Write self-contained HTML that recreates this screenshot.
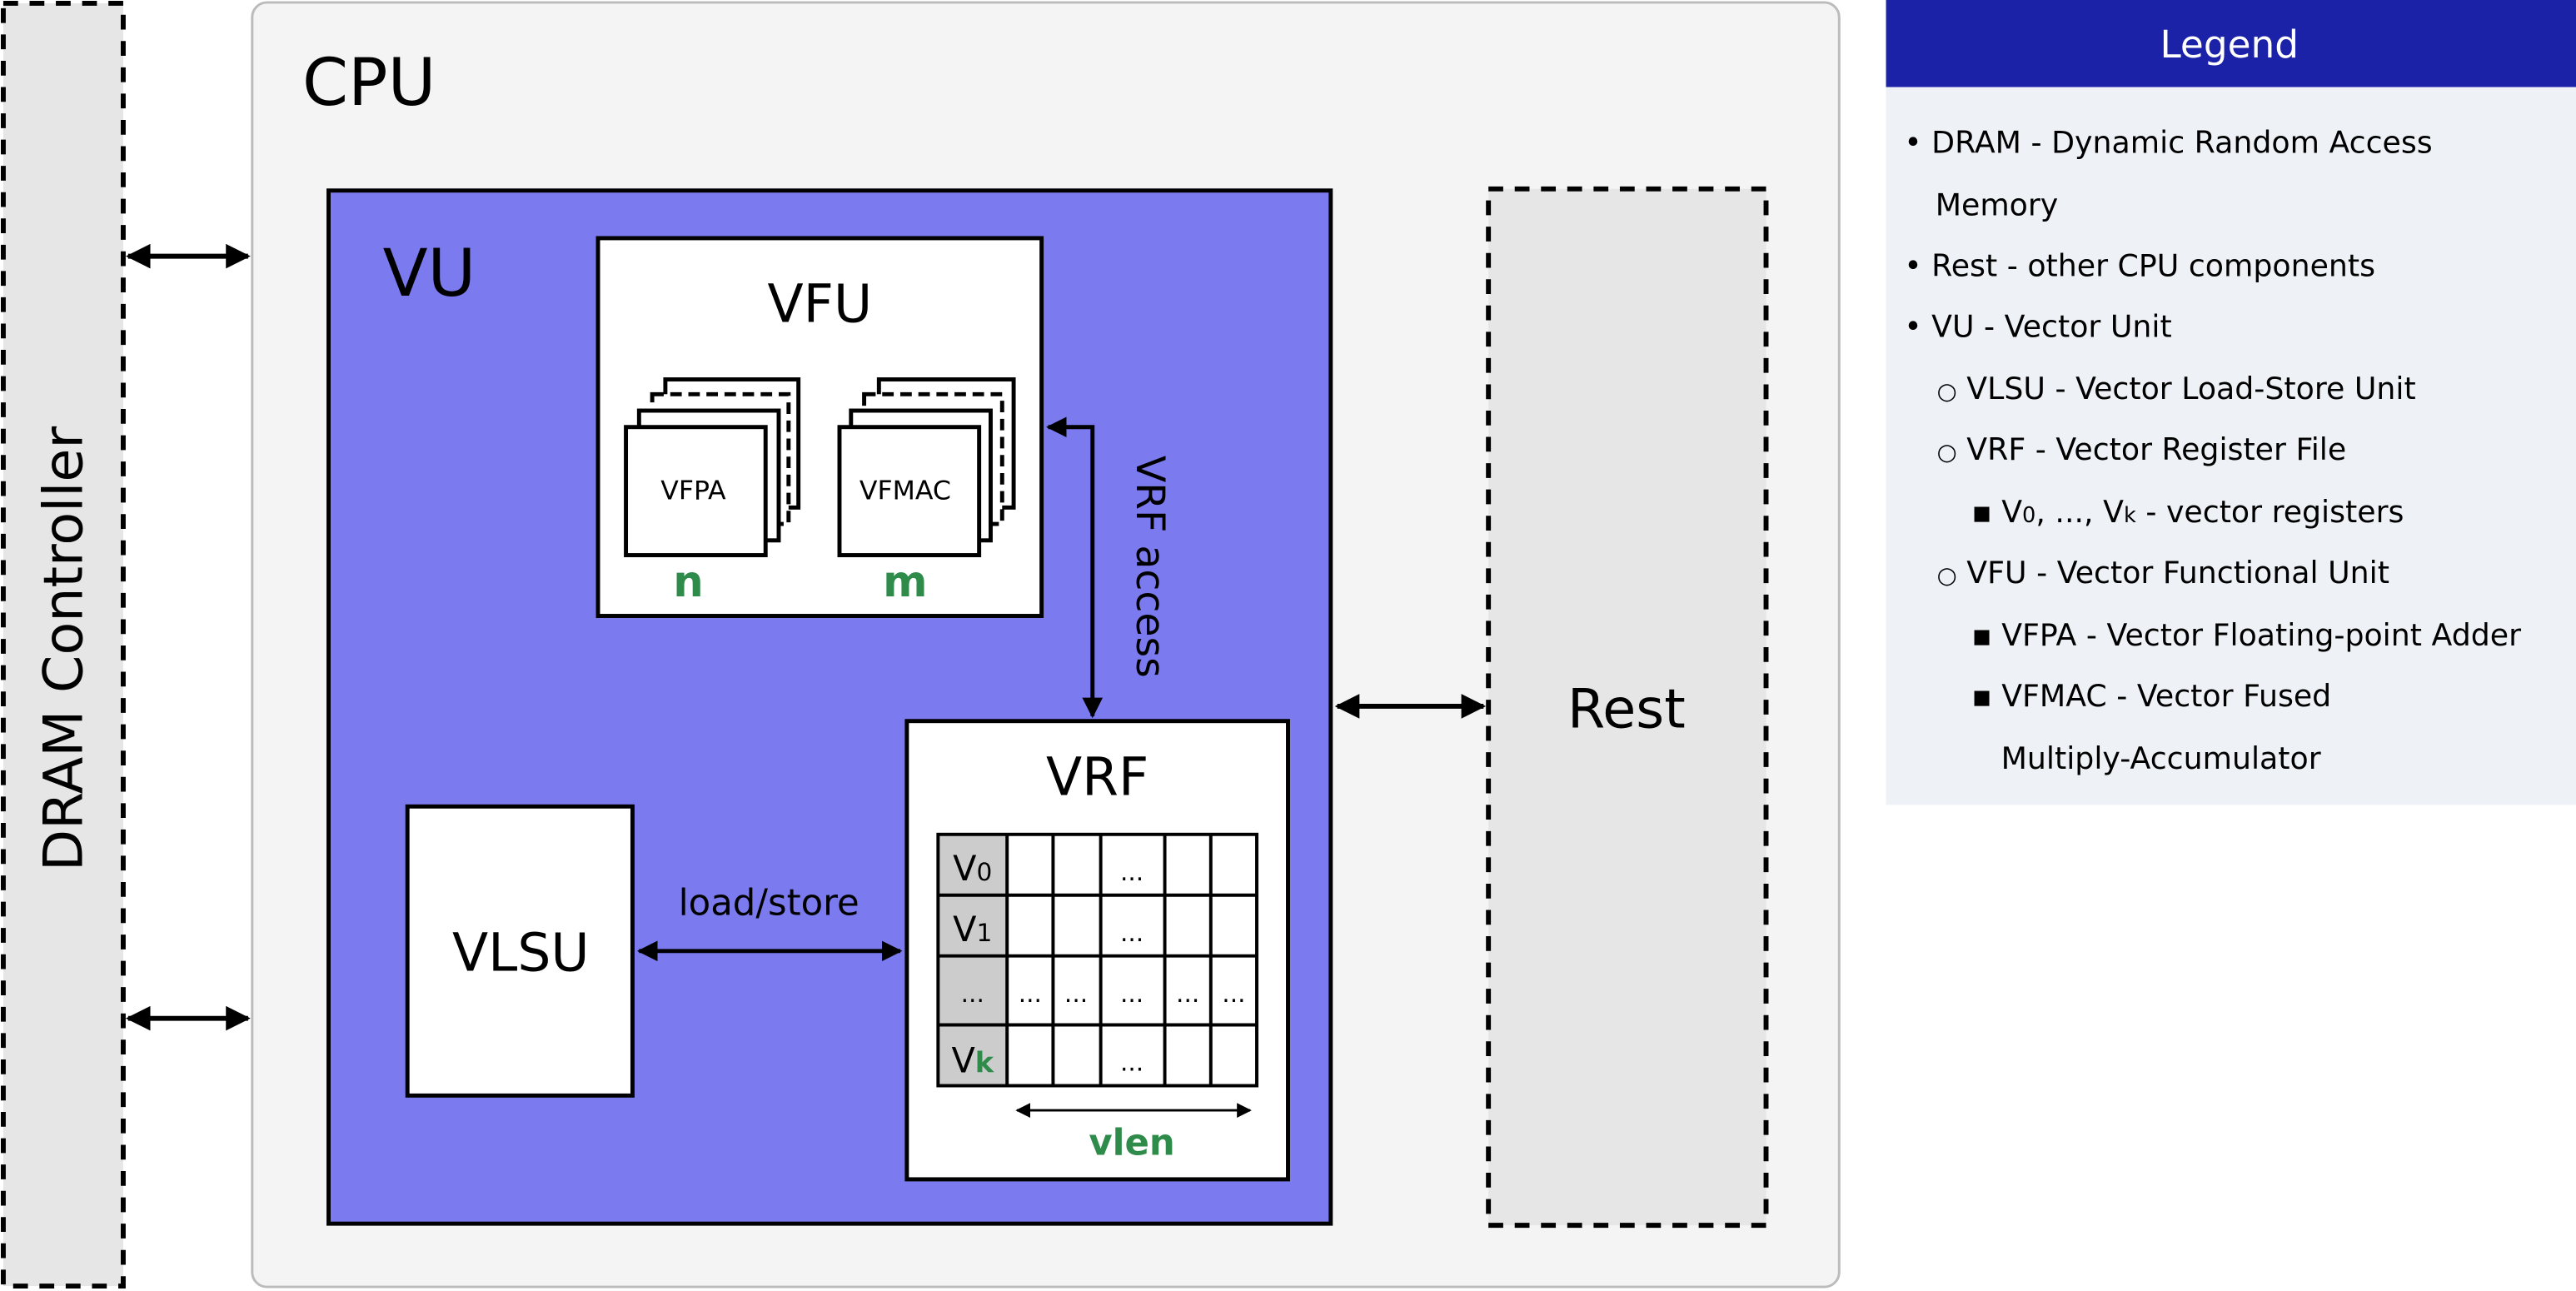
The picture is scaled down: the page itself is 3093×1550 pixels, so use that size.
<!DOCTYPE html>
<html><head><meta charset="utf-8"><style>
html,body{margin:0;padding:0;background:#fff;width:3093px;height:1550px;overflow:hidden}
svg{display:block}
text{font-family:"DejaVu Sans","Liberation Sans",sans-serif}
</style></head><body>
<svg width="3093" height="1550" viewBox="0 0 1568 786" preserveAspectRatio="none" xmlns="http://www.w3.org/2000/svg">
<defs>
<marker id="a" viewBox="0 0 10 10" refX="9" refY="5" markerWidth="5" markerHeight="5" orient="auto-start-reverse" markerUnits="strokeWidth"><path d="M0,0L10,5L0,10z" fill="#000"/></marker>
<marker id="s" viewBox="0 0 10 10" refX="9" refY="5" markerWidth="6" markerHeight="6" orient="auto-start-reverse" markerUnits="strokeWidth"><path d="M0,0L10,5L0,10z" fill="#000"/></marker>
</defs>
<!-- DRAM -->
<rect x="2" y="2" width="73" height="781" fill="#e6e6e6" stroke="#000" stroke-width="3" stroke-dasharray="9,7"/>
<text x="38" y="395" font-size="33" text-anchor="middle" transform="rotate(-90 38 395)" dy="12">DRAM Controller</text>
<!-- CPU -->
<rect x="153.5" y="1.5" width="966" height="782" rx="9" fill="#f4f4f4" stroke="#bbb" stroke-width="1.5"/>
<text x="184" y="64" font-size="40">CPU</text>
<!-- VU -->
<rect x="200" y="116" width="610" height="629" fill="#7b7bef" stroke="#000" stroke-width="2.5"/>
<text x="233" y="180" font-size="40">VU</text>
<!-- VFU -->
<rect x="364" y="145" width="270" height="230" fill="#fff" stroke="#000" stroke-width="2.5"/>
<text x="499" y="196" font-size="32" text-anchor="middle">VFU</text>
<g fill="#fff" stroke="#000" stroke-width="2.5">
<rect x="405" y="231" width="81" height="78"/>
<rect x="397" y="240" width="83" height="79" stroke-dasharray="7,4"/>
<rect x="389" y="250" width="85" height="79"/>
<rect x="381" y="260" width="85" height="78"/>
<rect x="535" y="231" width="82" height="78"/>
<rect x="526" y="240" width="84" height="79" stroke-dasharray="7,4"/>
<rect x="518" y="250" width="85" height="79"/>
<rect x="511" y="260" width="85" height="78"/>
</g>
<text x="422" y="304" font-size="16" text-anchor="middle">VFPA</text>
<text x="551" y="304" font-size="16" text-anchor="middle">VFMAC</text>
<text x="419" y="363" font-size="26" font-weight="bold" fill="#2e8b4a" text-anchor="middle">n</text>
<text x="551" y="363" font-size="26" font-weight="bold" fill="#2e8b4a" text-anchor="middle">m</text>
<!-- VRF access -->
<polyline points="638,260 665,260 665,436" fill="none" stroke="#000" stroke-width="2.5" marker-start="url(#a)" marker-end="url(#a)"/>
<text x="688" y="345" font-size="24" text-anchor="middle" transform="rotate(90 688 345)" dy="-4">VRF access</text>
<!-- VRF -->
<rect x="552" y="439" width="232" height="279" fill="#fff" stroke="#000" stroke-width="2.5"/>
<text x="668" y="484" font-size="32" text-anchor="middle">VRF</text>
<rect x="571" y="508" width="42" height="153" fill="#ccc"/>
<g stroke="#000" stroke-width="2" fill="none">
<rect x="571" y="508" width="194" height="153"/>
<path d="M613,508V661M641,508V661M670,508V661M709,508V661M737,508V661M571,545H765M571,582H765M571,624H765"/>
</g>
<g font-size="21" text-anchor="middle">
<text x="592" y="536">V<tspan font-size="15">0</tspan></text>
<text x="592" y="573">V<tspan font-size="15">1</tspan></text>
<text x="592" y="653">V<tspan font-size="17" font-weight="bold" fill="#2e8b4a">k</tspan></text>
</g>
<g font-size="15" text-anchor="middle">
<text x="689" y="536">...</text><text x="689" y="573">...</text><text x="689" y="652">...</text>
<text x="592" y="610">...</text><text x="627" y="610">...</text><text x="655" y="610">...</text><text x="689" y="610">...</text><text x="723" y="610">...</text><text x="751" y="610">...</text>
</g>
<line x1="619" y1="676" x2="761" y2="676" stroke="#000" stroke-width="1.5" marker-start="url(#s)" marker-end="url(#s)"/>
<text x="689" y="703" font-size="22" font-weight="bold" fill="#2e8b4a" text-anchor="middle">vlen</text>
<!-- VLSU -->
<rect x="248" y="491" width="137" height="176" fill="#fff" stroke="#000" stroke-width="2.5"/>
<text x="317" y="591" font-size="32" text-anchor="middle">VLSU</text>
<line x1="389" y1="579" x2="548" y2="579" stroke="#000" stroke-width="2.5" marker-start="url(#a)" marker-end="url(#a)"/>
<text x="468" y="557" font-size="22" text-anchor="middle">load/store</text>
<!-- Rest -->
<rect x="906" y="115" width="169" height="631" fill="#e6e6e6" stroke="#000" stroke-width="3" stroke-dasharray="9,7"/>
<text x="990" y="443" font-size="33" text-anchor="middle">Rest</text>
<line x1="814" y1="430" x2="903" y2="430" stroke="#000" stroke-width="3" marker-start="url(#a)" marker-end="url(#a)"/>
<line x1="78" y1="156" x2="151" y2="156" stroke="#000" stroke-width="3" marker-start="url(#a)" marker-end="url(#a)"/>
<line x1="78" y1="620" x2="151" y2="620" stroke="#000" stroke-width="3" marker-start="url(#a)" marker-end="url(#a)"/>
<!-- Legend -->
<rect x="1148" y="0" width="420" height="490" fill="#eef2f6"/>
<rect x="1148" y="0" width="420" height="53" fill="#1c22a8"/>
<text x="1357" y="35" font-size="23" fill="#fff" text-anchor="middle">Legend</text>
<g font-size="18.4">
<text x="1159" y="93">• DRAM - Dynamic Random Access</text>
<text x="1178" y="131">Memory</text>
<text x="1159" y="168">• Rest - other CPU components</text>
<text x="1159" y="205">• VU - Vector Unit</text>
<text x="1179" y="243"><tspan font-size="14">○</tspan> VLSU - Vector Load-Store Unit</text>
<text x="1179" y="280"><tspan font-size="14">○</tspan> VRF - Vector Register File</text>
<text x="1200" y="318">▪ V<tspan font-size="13">0</tspan>, ..., V<tspan font-size="13">k</tspan> - vector registers</text>
<text x="1179" y="355"><tspan font-size="14">○</tspan> VFU - Vector Functional Unit</text>
<text x="1200" y="393">▪ VFPA - Vector Floating-point Adder</text>
<text x="1200" y="430">▪ VFMAC - Vector Fused</text>
<text x="1218" y="468">Multiply-Accumulator</text>
</g>
</svg>
</body></html>
